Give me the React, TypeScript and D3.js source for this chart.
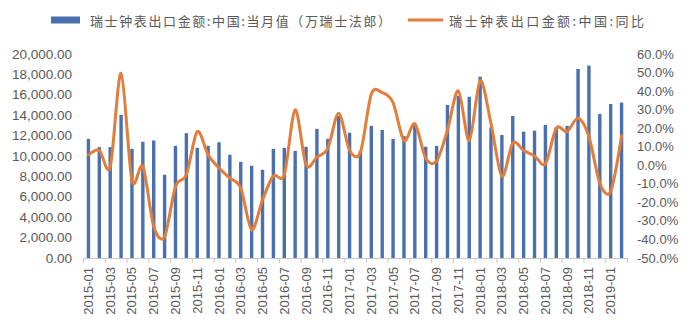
import React from "react";
import * as d3 from "d3";

const months: string[] = [];
for (let y = 2015; y <= 2019; y++) {
  for (let m = 1; m <= 12; m++) {
    if (y === 2019 && m > 2) break;
    months.push(`${y}-${String(m).padStart(2, "0")}`);
  }
}

const exportValue = [
  11680, 10870, 10870, 14030, 10700, 11390, 11520, 8160, 11000, 12240, 10800, 11000,
  11350, 10120, 9430, 9040, 8650, 10700, 10800, 10500, 10900, 12660, 11680, 13930,
  12280, 10500, 12960, 12550, 11680, 11950, 13040, 10910, 10990, 15000, 15900, 15810,
  17770, 12800, 12060, 13920, 12390, 12480, 13040, 12820, 12950, 18530, 18860, 14130,
  15100, 15240,
];

const yoy = [
  5.6, 8.0, -0.8, 49.6, -8.2, -0.6, -33.0, -38.5, -11.4, -5.1, 18.2, 5.6,
  -1.5, -6.9, -12.3, -34.8, -18.6, -5.7, -5.1, 29.9, 0.2, 4.4, 9.2, 28.1,
  8.1, 7.1, 38.4, 39.2, 33.8, 13.2, 22.4, 3.8, 2.2, 19.0, 40.2, 13.2,
  45.6, 22.5, -6.0, 12.0, 8.0, 5.0, 0.8, 20.0, 18.2, 25.4, 15.5, -9.6,
  -14.1, 15.9,
];

const leftTicks = [0, 2000, 4000, 6000, 8000, 10000, 12000, 14000, 16000, 18000, 20000];
const rightTicks = [-50, -40, -30, -20, -10, 0, 10, 20, 30, 40, 50, 60];

const legendBar = "瑞士钟表出口金额:中国:当月值（万瑞士法郎）";
const legendLine = "瑞士钟表出口金额:中国:同比";

const BAR = "#4a70ad";
const LINE = "#e27d3b";
const TEXT = "#595959";
const AXIS = "#c8c8c8";

export default function App() {
  const W = 693, H = 334;
  const x0 = 83, x1 = 627, yTop = 54, yBot = 258;
  const x = d3.scaleBand<string>().domain(months).range([x0, x1]);
  const yL = d3.scaleLinear().domain([0, 20000]).range([yBot, yTop]);
  const yR = d3.scaleLinear().domain([-50, 60]).range([yBot, yTop]);
  const bw = 3.4;
  const cx = (m: string) => (x(m) as number) + x.bandwidth() / 2;
  const fmtL = d3.format(",.2f");
  const line = d3
    .line<number>()
    .x((_, i) => cx(months[i]))
    .y((d) => yR(d))
    .curve(d3.curveCardinal.tension(0.1));
  const font = "'Liberation Sans', Arial, sans-serif";
  const tickXs = months.filter((_, i) => i % 2 === 0).map((m) => x(m) as number);
  tickXs.push(x1);

  return (
    <svg width={W} height={H} style={{ position: "absolute", left: 0, top: 0, background: "#fff" }}>
      {months.map((m, i) => (
        <rect key={m} x={cx(m) - bw / 2} y={yL(exportValue[i])} width={bw} height={yBot - yL(exportValue[i])} fill={BAR} />
      ))}
      <line x1={x0} x2={x1} y1={yBot + 0.5} y2={yBot + 0.5} stroke={AXIS} strokeWidth={1} />
      {tickXs.map((t, i) => (
        <line key={i} x1={t + 0.5} x2={t + 0.5} y1={yBot} y2={yBot + 5} stroke={AXIS} strokeWidth={1} />
      ))}
      <path d={line(yoy) || ""} fill="none" stroke={LINE} strokeWidth={3} strokeLinejoin="round" strokeLinecap="round" />
      {leftTicks.map((t) => (
        <text key={t} x={72} y={yL(t)} textAnchor="end" dominantBaseline="central" fontSize={13.5} fontFamily={font} fill={TEXT}>
          {fmtL(t)}
        </text>
      ))}
      {rightTicks.map((t) => (
        <text key={t} x={637} y={yR(t)} textAnchor="start" dominantBaseline="central" fontSize={13} fontFamily={font} fill={TEXT}>
          {t.toFixed(1) + "%"}
        </text>
      ))}
      {months.map((m, i) =>
        i % 2 === 0 ? (
          <text
            key={m}
            transform={`translate(${cx(m)},${yBot + 9}) rotate(-90)`}
            textAnchor="end"
            dominantBaseline="central"
            fontSize={13}
            fontFamily={font}
            fill={TEXT}
          >
            {m}
          </text>
        ) : null
      )}
      <rect x={51} y={16.5} width={29} height={7} fill={BAR} />
      <text x={90} y={20} dominantBaseline="central" fontSize={13} fontFamily="'Noto Sans CJK SC', sans-serif" fill={TEXT} textLength={301} lengthAdjust="spacing">
        {legendBar}
      </text>
      <line x1={408} x2={443} y1={20} y2={20} stroke={LINE} strokeWidth={3} />
      <text x={449} y={20} dominantBaseline="central" fontSize={13} fontFamily="'Noto Sans CJK SC', sans-serif" fill={TEXT} textLength={195} lengthAdjust="spacing">
        {legendLine}
      </text>
    </svg>
  );
}
